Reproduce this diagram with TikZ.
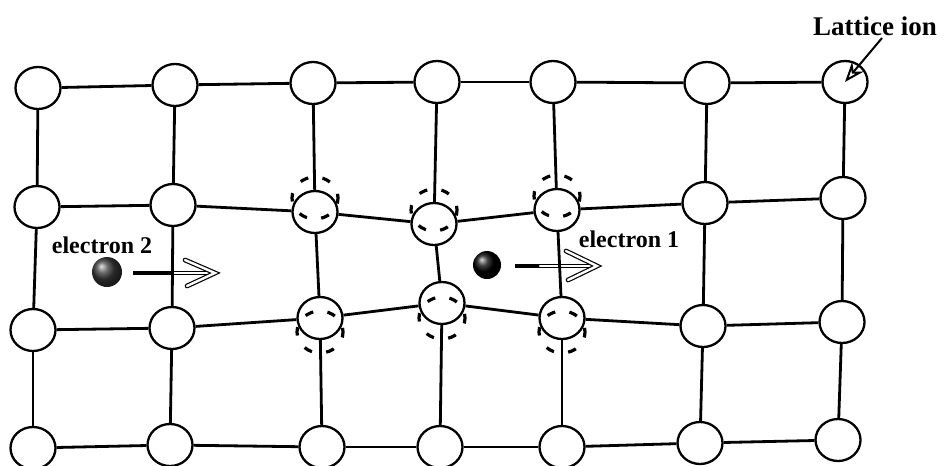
\documentclass[tikz,border=0pt]{standalone}
\usepackage{fontspec}
\setmainfont{Liberation Serif}
\usetikzlibrary{shapes.geometric,arrows.meta}
\begin{document}
\begin{tikzpicture}[x=0.5pt,y=-0.5pt,
  ion/.style={draw, ellipse, line width=1.15pt, minimum width=22.5pt,
    minimum height=21pt, inner sep=0pt},
  ghost/.style={draw, ellipse, line width=1.6pt,
    dash pattern=on 4.2pt off 7.2pt, dash phase=2.1pt,
    minimum width=23pt, minimum height=21pt, inner sep=0pt},
  bond/.style={line width=1.4pt},
  shaft/.style={line width=2.4pt},
  hollow/.style={line width=0.6pt, double=white, double distance=1.2pt, line cap=round},
  electron/.style={circle, inner sep=0pt, shading=ball},
  lbl/.style={font=\bfseries\fontsize{12}{14}\selectfont, inner sep=0pt},
  pointer/.style={line width=1pt, -{Stealth[open, length=10pt, width=7.5pt]}},
]
\useasboundingbox (0,0) rectangle (945,465);

% lattice ions (rows 1 and 2 near the electrons are displaced)
\node[ion] (c00) at (38,88) {};
\node[ion] (c01) at (175,85) {};
\node[ion] (c02) at (313,83) {};
\node[ion] (c03) at (437,82) {};
\node[ion] (c04) at (553,82) {};
\node[ion] (c05) at (707,83) {};
\node[ion] (c06) at (845,82) {};

\node[ion] (c10) at (37,207) {};
\node[ion] (c11) at (173,205) {};
\node[ion] (c12) at (315,212) {};
\node[ion] (c13) at (434,224) {};
\node[ion] (c14) at (557,210) {};
\node[ion] (c15) at (705,203) {};
\node[ion] (c16) at (843,198) {};

\node[ion] (c20) at (33,330) {};
\node[ion] (c21) at (172,328) {};
\node[ion] (c22) at (320,318) {};
\node[ion] (c23) at (442,303) {};
\node[ion] (c24) at (562,318) {};
\node[ion] (c25) at (703,326) {};
\node[ion] (c26) at (842,322) {};

\node[ion] (c30) at (33,448) {};
\node[ion] (c31) at (170,445) {};
\node[ion] (c32) at (322,447) {};
\node[ion] (c33) at (440,447) {};
\node[ion] (c34) at (562,447) {};
\node[ion] (c35) at (700,443) {};
\node[ion] (c36) at (838,440) {};

% original positions of the displaced ions
\node[ghost] (g12) at (315,198) {};
\node[ghost] (g13) at (434,210) {};
\node[ghost] (g14) at (557,196) {};
\node[ghost] (g22) at (320,332) {};
\node[ghost] (g23) at (442,318) {};
\node[ghost] (g24) at (562,332) {};

% electrons and their direction of motion
\node[electron, minimum size=15pt, ball color=gray!45!black] (e2) at (107,272) {};
\node[electron, minimum size=14pt, ball color=black] (e1) at (487,265) {};

\coordinate (a2s) at (133,273);
\coordinate (a2m) at (172,273);
\coordinate (a2t) at (215,273);
\coordinate (a2u) at (185,260);
\coordinate (a2d) at (187,286);
\draw[shaft] (a2s) -- (a2m);
\draw[hollow] (a2m) -- (a2t);
\draw[hollow] (a2u) -- (a2t) -- (a2d);

\coordinate (a1s) at (515,266);
\coordinate (a1m) at (540,266);
\coordinate (a1t) at (597,266);
\coordinate (a1u) at (566,251);
\coordinate (a1d) at (568,280);
\draw[shaft] (a1s) -- (a1m);
\draw[hollow] (a1m) -- (a1t);
\draw[hollow] (a1u) -- (a1t) -- (a1d);

% bonds of the lattice
\foreach \r in {0,...,3}{
  \foreach \a/\b in {0/1,1/2,2/3,3/4,4/5,5/6}{
    \draw[bond] (c\r\a) -- (c\r\b);
  }
}
\foreach \j in {0,...,6}{
  \foreach \a/\b in {0/1,1/2,2/3}{
    \draw[bond] (c\a\j) -- (c\b\j);
  }
}

% labels
\node[lbl] (t2) at (102,245) {electron 2};
\node[lbl] (t1) at (629,239) {electron 1};
\node[font=\bfseries\fontsize{13.5}{16}\selectfont, inner sep=0pt] (lat) at (875,26) {Lattice ion};
\coordinate (latp) at (882,38);
\draw[pointer] (latp) -- (c06.center);
\end{tikzpicture}
\end{document}
